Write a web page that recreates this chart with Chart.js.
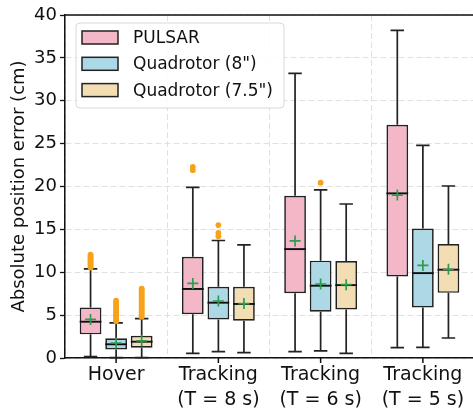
<!DOCTYPE html>
<html>
<head>
<meta charset="utf-8">
<script src="https://cdn.jsdelivr.net/npm/chart.js@4/dist/chart.umd.min.js"></script>
<style>
  html, body { margin: 0; padding: 0; background: #fff; overflow: hidden; }
  #wrap { position: relative; width: 480px; height: 410px; }
</style>
</head>
<body>
<div id="wrap"><canvas id="c"></canvas></div>
<script>
// ---------- data ----------
const categories = ['Hover', ['Tracking', '(T = 8 s)'], ['Tracking', '(T = 6 s)'], ['Tracking', '(T = 5 s)']];
const seriesNames = ['PULSAR', 'Quadrotor (8")', 'Quadrotor (7.5")'];
const yTicks = [0, 5, 10, 15, 20, 25, 30, 35, 40];

const pulsarQ1 = [2.76, 5.1, 7.55, 9.5];
const pulsarQ3 = [5.9, 11.8, 18.93, 27.2];
const pulsarMedian = [4.23, 8.05, 12.7, 19.2];
const pulsarMean = [4.5, 8.7, 13.65, 19.0];
const pulsarLow = [0.15, 0.55, 0.74, 1.2];
const pulsarHigh = [10.4, 19.9, 33.2, 38.2];
const pulsarOutliers = [[10.55, 10.7, 10.9, 11.05, 11.2, 11.4, 11.55, 11.7, 11.9, 12.05], [21.9, 22.3], [], []];

const quad8Q1 = [1.0, 4.5, 5.4, 5.9];
const quad8Q3 = [2.3, 8.3, 11.35, 15.1];
const quad8Median = [1.6, 6.45, 8.43, 9.9];
const quad8Mean = [1.75, 6.65, 8.63, 10.8];
const quad8Low = [0.05, 0.75, 0.82, 1.25];
const quad8High = [4.1, 13.7, 19.6, 24.8];
const quad8Outliers = [[4.3, 4.5, 4.7, 4.9, 5.1, 5.3, 5.5, 5.7, 5.9, 6.1, 6.3, 6.5, 6.7], [14.2, 14.6, 15.5], [20.45], []];

const quad75Q1 = [1.2, 4.35, 5.67, 7.6];
const quad75Q3 = [2.6, 8.3, 11.3, 13.3];
const quad75Median = [1.9, 6.3, 8.5, 10.3];
const quad75Mean = [2.0, 6.35, 8.55, 10.35];
const quad75Low = [0.05, 0.62, 0.55, 2.33];
const quad75High = [4.6, 13.2, 17.96, 20.06];
const quad75Outliers = [[4.8, 5.0, 5.2, 5.4, 5.6, 5.8, 6.0, 6.2, 6.4, 6.6, 6.8, 7.0, 7.2, 7.4, 7.6, 7.8, 8.0, 8.1], [], [], []];

const seriesColors = ['#F4B7C8', '#ADD8E6', '#F3DDB2'];

// ---------- build ----------
const stats = [
  { q1: pulsarQ1, q3: pulsarQ3, med: pulsarMedian, mean: pulsarMean, lo: pulsarLow, hi: pulsarHigh, out: pulsarOutliers },
  { q1: quad8Q1, q3: quad8Q3, med: quad8Median, mean: quad8Mean, lo: quad8Low, hi: quad8High, out: quad8Outliers },
  { q1: quad75Q1, q3: quad75Q3, med: quad75Median, mean: quad75Mean, lo: quad75Low, hi: quad75High, out: quad75Outliers }
];

const datasets = stats.map((s, i) => ({
  label: seriesNames[i],
  data: s.q1.map((v, j) => [v, s.q3[j]]),
  backgroundColor: seriesColors[i],
  borderColor: '#222',
  borderWidth: 1.7,
  borderSkipped: false,
  categoryPercentage: 0.75,
  barPercentage: 0.85
}));

const FONT = "'DejaVu Sans', sans-serif";

const boxPlugin = {
  id: 'boxParts',
  afterDatasetsDraw(chart) {
    const ctx = chart.ctx;
    const ys = chart.scales.y;
    ctx.save();
    stats.forEach((s, i) => {
      const meta = chart.getDatasetMeta(i);
      meta.data.forEach((bar, j) => {
        const x = bar.x, w = bar.width;
        const yq1 = ys.getPixelForValue(s.q1[j]);
        const yq3 = ys.getPixelForValue(s.q3[j]);
        const ylo = ys.getPixelForValue(s.lo[j]);
        const yhi = ys.getPixelForValue(s.hi[j]);
        const ymed = ys.getPixelForValue(s.med[j]);
        const ymean = ys.getPixelForValue(s.mean[j]);
        ctx.strokeStyle = '#222';
        ctx.lineWidth = 1.7;
        ctx.setLineDash([]);
        ctx.beginPath();
        ctx.moveTo(x, yq3); ctx.lineTo(x, yhi);
        ctx.moveTo(x, yq1); ctx.lineTo(x, ylo);
        const cw = w * 0.31;
        ctx.moveTo(x - cw, yhi); ctx.lineTo(x + cw, yhi);
        ctx.moveTo(x - cw, ylo); ctx.lineTo(x + cw, ylo);
        ctx.stroke();
        // median
        ctx.beginPath();
        ctx.lineWidth = 1.9;
        ctx.strokeStyle = '#111';
        ctx.moveTo(x - w / 2, ymed); ctx.lineTo(x + w / 2, ymed);
        ctx.stroke();
        // outliers
        ctx.fillStyle = '#F7A21B';
        s.out[j].forEach(v => {
          ctx.beginPath();
          ctx.arc(x, ys.getPixelForValue(v), 2.9, 0, Math.PI * 2);
          ctx.fill();
        });
        // mean +
        ctx.strokeStyle = '#2E9B4E';
        ctx.lineWidth = 1.7;
        ctx.beginPath();
        ctx.moveTo(x - 5.5, ymean); ctx.lineTo(x + 5.5, ymean);
        ctx.moveTo(x, ymean - 5.5); ctx.lineTo(x, ymean + 5.5);
        ctx.stroke();
      });
    });
    ctx.restore();
  },
  afterDraw(chart) {
    const ctx = chart.ctx;
    const a = chart.chartArea;
    const xs = chart.scales.x;
    ctx.save();
    // top spine and right spine
    ctx.strokeStyle = '#111';
    ctx.lineWidth = 1.5;
    ctx.beginPath();
    ctx.moveTo(a.left, a.top); ctx.lineTo(a.right, a.top); ctx.lineTo(a.right, a.bottom);
    ctx.stroke();
    // x tick marks at category centers
    ctx.beginPath();
    categories.forEach((c, i) => {
      const px = xs.getPixelForValue(i);
      ctx.moveTo(px, a.bottom); ctx.lineTo(px, a.bottom + 5);
    });
    ctx.stroke();
    // legend
    const lx = 76, ly = 23, lw = 208, lh = 85;
    ctx.fillStyle = 'rgba(255,255,255,0.85)';
    ctx.strokeStyle = '#d8d8d8';
    ctx.lineWidth = 1;
    ctx.beginPath();
    if (ctx.roundRect) ctx.roundRect(lx, ly, lw, lh, 4); else ctx.rect(lx, ly, lw, lh);
    ctx.fill(); ctx.stroke();
    ctx.font = '17px ' + FONT;
    ctx.textBaseline = 'middle';
    ctx.textAlign = 'left';
    seriesNames.forEach((n, i) => {
      const cy = 37.5 + i * 26.3;
      ctx.fillStyle = seriesColors[i];
      ctx.fillRect(82, cy - 6.5, 36, 13);
      ctx.strokeStyle = '#222';
      ctx.lineWidth = 1.5;
      ctx.strokeRect(82, cy - 6.5, 36, 13);
      ctx.fillStyle = '#111';
      ctx.fillText(n, 133, cy + 1);
    });
    ctx.restore();
  }
};

new Chart(document.getElementById('c'), {
  type: 'bar',
  data: { labels: categories, datasets },
  options: {
    responsive: true,
    maintainAspectRatio: false,
    animation: false,
    devicePixelRatio: 1,
    layout: { padding: { top: 15, right: 6, bottom: 0, left: 0 } },
    plugins: { legend: { display: false }, tooltip: { enabled: false } },
    scales: {
      x: {
        offset: true,
        afterFit(scale) { scale.height = 52; },
        grid: { offset: true, color: '#e0e0e0', drawTicks: false, lineWidth: 1 },
        border: { display: true, color: '#111', width: 1.5, dash: [6, 3] },
        ticks: { color: '#111', font: { family: FONT, size: 19, lineHeight: 1.3 }, padding: 5, maxRotation: 0, autoSkip: false }
      },
      y: {
        min: 0, max: 40,
        afterFit(scale) { scale.width = 65; },
        afterBuildTicks(scale) { scale.ticks = yTicks.map(v => ({ value: v })); },
        grid: { color: '#e0e0e0', tickLength: 5, tickColor: '#111', tickBorderDash: [0, 0], tickWidth: 1.3, lineWidth: 1 },
        border: { display: true, color: '#111', width: 1.5, dash: [6, 3] },
        ticks: { color: '#111', font: { family: FONT, size: 18 }, padding: 3 },
        title: { display: true, text: 'Absolute position error (cm)', color: '#111', font: { family: FONT, size: 18 }, padding: { top: 9, bottom: 1 } }
      }
    }
  },
  plugins: [boxPlugin]
});
</script>
</body>
</html>
